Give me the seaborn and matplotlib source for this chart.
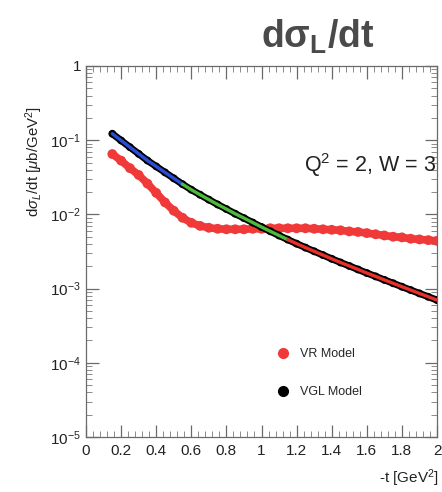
import numpy as np
import pandas as pd
import matplotlib
matplotlib.use("Agg")
import matplotlib.pyplot as plt
import seaborn as sns
from matplotlib.lines import Line2D
from matplotlib.ticker import FixedLocator, FuncFormatter, LogLocator, NullFormatter

# ------------------------------------------
# Data
# ------------------------------------------
t_vals = [0.15, 0.20, 0.25, 0.30, 0.35, 0.40, 0.45, 0.50, 0.55, 0.60,
          0.65, 0.70, 0.75, 0.80, 0.85, 0.90, 0.95, 1.00, 1.05, 1.10,
          1.15, 1.20, 1.25, 1.30, 1.35, 1.40, 1.45, 1.50, 1.55, 1.60,
          1.65, 1.70, 1.75, 1.80, 1.85, 1.90, 1.95, 2.00]

vr_model = [0.065, 0.053, 0.042, 0.034, 0.026, 0.0195, 0.0145, 0.0112, 0.0090, 0.0077,
            0.0070, 0.0066, 0.0064, 0.0063, 0.0063, 0.0063, 0.0064, 0.0064, 0.0065, 0.0065,
            0.0065, 0.0065, 0.0065, 0.0064, 0.0063, 0.0062, 0.0061, 0.0059, 0.0058, 0.0056,
            0.0054, 0.0052, 0.0050, 0.0049, 0.0047, 0.0046, 0.0045, 0.0044]

vgl_model = [0.122, 0.0991, 0.0805, 0.0655, 0.0532, 0.0443, 0.0368, 0.0306, 0.0255, 0.0215,
             0.0184, 0.0158, 0.0136, 0.0118, 0.0102, 0.00891, 0.00776, 0.00676, 0.00592, 0.00519,
             0.00457, 0.00403, 0.00357, 0.00318, 0.00283, 0.00252, 0.00225, 0.00202, 0.00181, 0.00162,
             0.00146, 0.00131, 0.00118, 0.00106, 0.000955, 0.000861, 0.000776, 0.0007]

# fit-range segments drawn over the VGL curve
seg_names = ["low", "mid", "high"]
seg_lo = [0.15, 0.55, 1.15]
seg_hi = [0.55, 1.15, 2.00]
seg_colors = ["#2a4fd6", "#4cbb3a", "#e8302c"]

df = pd.DataFrame({"t": t_vals, "VR": vr_model, "VGL": vgl_model})

# ------------------------------------------
# Style
# ------------------------------------------
sns.set_style("ticks")
plt.rcParams["font.family"] = ["Liberation Sans", "DejaVu Sans"]
plt.rcParams["mathtext.fontset"] = "custom"
plt.rcParams["mathtext.rm"] = "Liberation Sans"
plt.rcParams["mathtext.it"] = "Liberation Sans:italic"
plt.rcParams["mathtext.bf"] = "Liberation Sans:bold"

frame_col = "#6a6a6a"

fig = plt.figure(figsize=(4.42, 4.92), dpi=100)
ax = fig.add_axes([0.1946, 0.1118, 0.7941, 0.7541])

# ------------------------------------------
# Curves
# ------------------------------------------
sns.lineplot(data=df, x="t", y="VR", ax=ax, color="#f03a3a", lw=5.5, zorder=2)
sns.scatterplot(data=df, x="t", y="VR", ax=ax, color="#f03a3a", s=50,
                edgecolor="none", zorder=2)

sns.lineplot(data=df, x="t", y="VGL", ax=ax, color="black", lw=5.0, zorder=3)
sns.scatterplot(data=df, x="t", y="VGL", ax=ax, color="black", s=32,
                edgecolor="none", zorder=3)

for name, lo, hi, c in zip(seg_names, seg_lo, seg_hi, seg_colors):
    part = df[(df["t"] >= lo - 1e-9) & (df["t"] <= hi + 1e-9)]
    sns.lineplot(data=part, x="t", y="VGL", ax=ax, color=c, lw=2.4, zorder=4)

# ------------------------------------------
# Axes
# ------------------------------------------
ax.set_yscale("log")
ax.set_xlim(0, 2)
ax.set_ylim(1e-5, 1)

ax.xaxis.set_major_locator(FixedLocator(np.round(np.arange(0, 2.01, 0.2), 2)))
ax.xaxis.set_minor_locator(FixedLocator(np.round(np.arange(0, 2.01, 0.04), 2)))
ax.xaxis.set_major_formatter(FuncFormatter(lambda v, p: "%g" % round(v, 1)))

ax.yaxis.set_major_locator(LogLocator(base=10, numticks=10))
ax.yaxis.set_minor_locator(LogLocator(base=10, subs=np.arange(2, 10), numticks=20))
ax.yaxis.set_minor_formatter(NullFormatter())


def ylab(v, p):
    e = int(round(np.log10(v)))
    if e == 0:
        return "1"
    return r"$10^{%d}$" % e


ax.yaxis.set_major_formatter(FuncFormatter(ylab))

for s in ax.spines.values():
    s.set_color(frame_col)
    s.set_linewidth(0.9)

ax.tick_params(which="both", direction="in", top=True, right=True,
               color=frame_col, labelsize=11, labelcolor="#222222")
ax.tick_params(which="major", length=9, width=0.9)
ax.tick_params(which="minor", length=4.5, width=0.7, color="#8a8a8a")
ax.tick_params(axis="x", pad=5)

ax.set_xlabel("")
ax.set_ylabel("")

fig.text(0.992, 0.028, "-t [GeV$^2$]", ha="right", va="center", fontsize=11,
         color="#222222")
fig.text(0.078, 0.672, r"d$\sigma_L$/dt [$\mu$b/GeV$^2$]", rotation=90,
         ha="center", va="center", fontsize=10.8, color="#222222")

# ------------------------------------------
# Title and annotation
# ------------------------------------------
fig.text(0.718, 0.925, r"d$\mathbf{\sigma_L}$/dt", ha="center", va="center",
         fontsize=27, fontweight="bold", color="#4a4a4a")

ax.text(0.62, 0.715, "Q$^2$ = 2, W = 3", transform=ax.transAxes,
        fontsize=15.5, color="#222222", ha="left", va="baseline")

# ------------------------------------------
# Legend
# ------------------------------------------
handles = [
    Line2D([], [], ls="none", marker="o", markersize=7, color="#f03a3a"),
    Line2D([], [], ls="none", marker="o", markersize=7, color="black"),
]
ax.legend(handles, ["VR Model", "VGL Model"], loc="upper left",
          bbox_to_anchor=(0.5, 0.27), frameon=False, fontsize=9,
          labelspacing=2.1, handletextpad=0.6, handlelength=1.6)

fig.savefig("out.png", dpi=100)
